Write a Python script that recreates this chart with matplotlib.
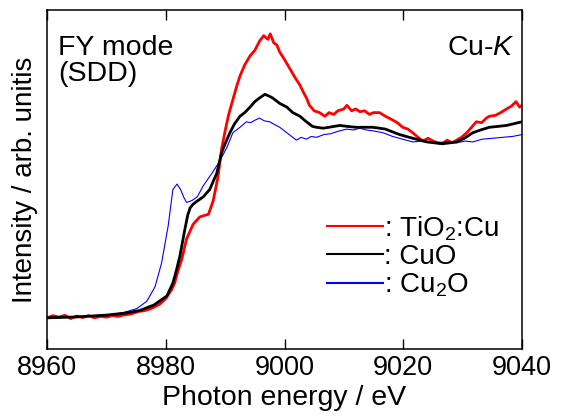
import matplotlib
matplotlib.use("Agg")
import matplotlib.pyplot as plt

plt.rcParams['font.family'] = ['Liberation Sans', 'DejaVu Sans']
plt.rcParams['mathtext.fontset'] = 'custom'
plt.rcParams['mathtext.rm'] = 'Liberation Sans'
plt.rcParams['mathtext.it'] = 'Liberation Sans:italic'

# TiO2:Cu (red)
e_tio2 = [8960, 8961, 8962, 8963, 8964, 8965, 8966, 8967, 8968, 8969, 8970, 8971, 8972, 8973, 8974,
          8975.5, 8976.5, 8977.3, 8978, 8979, 8980, 8981, 8981.5, 8982, 8982.7, 8983.5, 8984.6,
          8985.7, 8986.6, 8987.2, 8988, 8988.8, 8989.4, 8990, 8990.6, 8991.3, 8992, 8992.5, 8993.3,
          8994.2, 8995, 8995.8, 8996.5, 8997.2, 8997.6, 8998.2, 8998.7, 8999.2, 9000, 9000.9,
          9001.8, 9002.6, 9003.2, 9003.7, 9004.2, 9005, 9005.9, 9006.8, 9007.5, 9008.3, 9009,
          9010, 9010.5, 9011.3, 9012, 9012.7, 9013.5, 9014.3, 9015, 9016, 9017, 9018.2, 9019,
          9019.9, 9020.8, 9021.6, 9022.5, 9023.3, 9024.2, 9025, 9025.8, 9026.6, 9027.4, 9028.2,
          9029, 9029.8, 9030.7, 9031.5, 9032.3, 9033.2, 9034, 9034.5, 9035.5, 9036.4, 9037.4,
          9038.2, 9039, 9039.6, 9040]
i_tio2 = [0.0, 0.012, 0.004, 0.014, -0.004, 0.01, 0.002, 0.012, 0.0, 0.008, 0.004, 0.012, 0.008, 0.016, 0.02,
          0.035, 0.04, 0.048, 0.058, 0.075, 0.105, 0.155, 0.19, 0.25, 0.32, 0.43, 0.51,
          0.55, 0.56, 0.565, 0.64, 0.77, 0.92, 1.02, 1.11, 1.19, 1.27, 1.32, 1.38,
          1.43, 1.46, 1.51, 1.54, 1.52, 1.55, 1.5, 1.49, 1.45, 1.41, 1.36,
          1.31, 1.27, 1.23, 1.2, 1.16, 1.13, 1.12, 1.1, 1.12, 1.11, 1.13,
          1.14, 1.16, 1.13, 1.14, 1.125, 1.13, 1.11, 1.12, 1.12, 1.1, 1.08, 1.065,
          1.04, 1.03, 1.01, 0.985, 0.965, 0.98, 0.965, 0.955, 0.95, 0.97, 0.955,
          0.97, 0.985, 1.01, 1.04, 1.07, 1.065, 1.09, 1.1, 1.105, 1.12, 1.14,
          1.155, 1.18, 1.15, 1.16]

# CuO (black)
e_cuo = [8960, 8965, 8970, 8973, 8975.6, 8978, 8980.2, 8981.2, 8981.8, 8982.4, 8983.2, 8983.7, 8984.1,
         8984.6, 8985.2, 8986.3, 8987.4, 8988.6, 8989.4, 8990, 8990.8, 8991.6, 8992.5, 8993.3, 8994.2,
         8995, 8995.8, 8996.7, 8997.4, 8998, 8999.2, 9000.4, 9001.4, 9002.6, 9003.7, 9004.7,
         9005.4, 9006.5, 9007.5, 9008.4, 9009.3, 9010.5, 9012, 9013.4, 9014.8, 9016, 9017, 9018.2,
         9019.4, 9020.5, 9021.6, 9022.8, 9024, 9025.3, 9026.6, 9027.8, 9029, 9030.3, 9031.7,
         9033, 9034.5, 9036, 9037.4, 9038.7, 9040]
i_cuo = [0.0, 0.005, 0.015, 0.025, 0.04, 0.07, 0.12, 0.19, 0.26, 0.34, 0.48, 0.56, 0.6,
         0.62, 0.635, 0.66, 0.7, 0.79, 0.9, 0.95, 1.01, 1.06, 1.1, 1.12, 1.15,
         1.18, 1.2, 1.22, 1.21, 1.2, 1.17, 1.15, 1.12, 1.1, 1.07, 1.045,
         1.04, 1.035, 1.04, 1.045, 1.05, 1.045, 1.04, 1.04, 1.04, 1.035, 1.03, 1.015,
         1.0, 0.99, 0.98, 0.97, 0.96, 0.955, 0.95, 0.955, 0.96, 0.98, 1.01,
         1.025, 1.04, 1.045, 1.05, 1.06, 1.07]

# Cu2O (blue)
e_cu2o = [8960, 8965, 8970, 8973, 8975.1, 8976.8, 8978.2, 8979.3, 8980.4, 8981.2, 8981.9, 8982.5,
          8983, 8983.5, 8984.4, 8985.3, 8986.3, 8987.8, 8989, 8990.3, 8991.3, 8992.5, 8993.6,
          8994.3, 8995.1, 8995.8, 8996.6, 8997.5, 8998.3, 8999.2, 9000.4, 9001.2, 9002, 9002.8,
          9003.7, 9004.5, 9005.4, 9006.6, 9007.8, 9009.2, 9010.5, 9011.6, 9012.7, 9013.8, 9015,
          9016.6, 9018.2, 9019.9, 9021.6, 9023.3, 9025, 9027, 9029, 9030.4, 9031.7, 9033.3, 9035,
          9036.7, 9038.4, 9040]
i_cu2o = [0.0, 0.005, 0.015, 0.03, 0.05, 0.09, 0.17, 0.3, 0.5, 0.7, 0.73, 0.7,
          0.66, 0.63, 0.64, 0.66, 0.72, 0.79, 0.85, 0.93, 1.01, 1.04, 1.07,
          1.065, 1.08, 1.09, 1.075, 1.07, 1.055, 1.04, 1.01, 0.99, 0.97, 0.985,
          0.975, 0.99, 0.985, 1.0, 1.005, 1.02, 1.03, 1.025, 1.035, 1.025, 1.02,
          1.01, 0.99, 0.975, 0.96, 0.965, 0.955, 0.96, 0.955, 0.965, 0.96, 0.975, 0.98,
          0.985, 0.99, 1.0]

series_labels = [': TiO$_2$:Cu', ': CuO', ': Cu$_2$O']
x_ticks = [8960, 8980, 9000, 9020, 9040]

fig = plt.figure(figsize=(5.63, 4.17), dpi=100)
ax = fig.add_axes([47 / 563, 68 / 417, 475 / 563, 339 / 417])

ax.plot(e_cu2o, i_cu2o, color='#0000ff', lw=0.8, label=series_labels[2], zorder=2)
ax.plot(e_cuo, i_cuo, color='black', lw=2.0, label=series_labels[1], zorder=3)
ax.plot(e_tio2, i_tio2, color='#ff0000', lw=2.0, label=series_labels[0], zorder=1)

ax.set_xlim(8960, 9040)
ax.set_ylim(-0.17, 1.68)
ax.set_xticks(x_ticks)
ax.set_yticks([])
ax.tick_params(axis='x', direction='in', length=7.5, width=1.0, top=True, labelsize=19.5, pad=4)
for s in ax.spines.values():
    s.set_linewidth(1.1)

ax.set_xlabel('Photon energy / eV', fontsize=20.5, va='top')
ax.xaxis.set_label_coords(0.5, -0.105)
ax.set_ylabel('Intensity / arb. unitis', fontsize=20)
ax.yaxis.set_label_coords(-0.019, 0.5)

ax.text(0.023, 0.927, 'FY mode\n(SDD)', transform=ax.transAxes, fontsize=20.5,
        ha='left', va='top', linespacing=1.0)
ax.text(0.985, 0.927, 'Cu-$K$', transform=ax.transAxes, fontsize=20.5,
        ha='right', va='top')

handles, labels = ax.get_legend_handles_labels()
order = [2, 1, 0]
leg = ax.legend([handles[i] for i in order], [labels[i] for i in order],
                loc='upper left', bbox_to_anchor=(0.59, 0.398), frameon=False,
                fontsize=20, handlelength=2.0, handletextpad=0.05, labelspacing=0.05,
                borderpad=0, borderaxespad=0)
for line in leg.get_lines():
    line.set_linewidth(1.5)

fig.savefig('out.png', dpi=100)
